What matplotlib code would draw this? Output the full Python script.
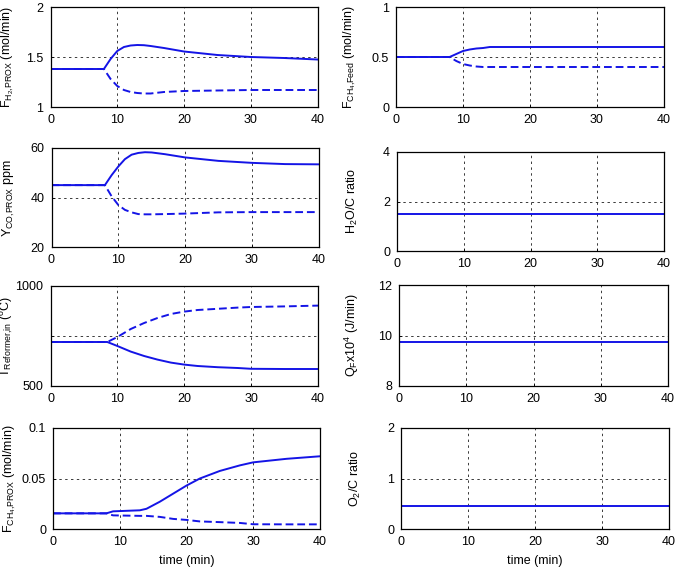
import matplotlib
matplotlib.use('Agg')
import matplotlib.pyplot as plt

plt.rcParams['font.family'] = ['Liberation Sans', 'DejaVu Sans']
plt.rcParams['mathtext.fontset'] = 'custom'
plt.rcParams['mathtext.rm'] = 'Liberation Sans'
plt.rcParams['mathtext.it'] = 'Liberation Sans'
plt.rcParams['font.size'] = 9

# time grids
t_a = [0, 8, 9, 10, 11, 12, 13, 14, 15, 17, 20, 25, 30, 35, 40]
t_T = [0, 8.5, 10, 12, 14, 16, 18, 20, 22, 25, 28, 30, 35, 40]
t_c = [0, 8, 9, 13, 14, 16, 18, 20, 22, 25, 28, 30, 35, 40]
t_flat = [0, 40]

# F_H2,PROX (mol/min)
fh2_up = [1.38, 1.38, 1.48, 1.56, 1.60, 1.615, 1.62, 1.618, 1.61, 1.59, 1.555, 1.52, 1.50, 1.49, 1.475]
fh2_dn = [1.38, 1.38, 1.28, 1.21, 1.17, 1.15, 1.14, 1.135, 1.135, 1.15, 1.16, 1.165, 1.17, 1.17, 1.17]

# F_CH4,Feed (mol/min)
fch4_up = [0.5, 0.5, 0.53, 0.56, 0.575, 0.585, 0.59, 0.6, 0.6, 0.6, 0.6, 0.6, 0.6, 0.6, 0.6]
fch4_dn = [0.5, 0.5, 0.46, 0.43, 0.415, 0.405, 0.4, 0.4, 0.4, 0.4, 0.4, 0.4, 0.4, 0.4, 0.4]

# Y_CO,PROX ppm
yco_up = [45, 45, 49, 52.5, 55.5, 57.3, 58, 58.3, 58.2, 57.5, 56.2, 54.8, 54, 53.5, 53.4]
yco_dn = [45, 45, 40.5, 37, 35, 34, 33.3, 33.2, 33.2, 33.3, 33.5, 34, 34.1, 34.1, 34.1]

# T_Reformer,in (C)
tref_dn = [720, 720, 700, 672, 650, 632, 617, 607, 600, 594, 590, 586, 585, 585]
tref_up = [720, 720, 745, 785, 815, 840, 860, 872, 880, 886, 892, 895, 898, 902]

# F_CH4,PROX (mol/min)
fprox_up = [0.0155, 0.0155, 0.0175, 0.0185, 0.020, 0.027, 0.035, 0.043, 0.050, 0.0575, 0.063, 0.066, 0.0695, 0.072]
fprox_dn = [0.0155, 0.0155, 0.0135, 0.013, 0.013, 0.012, 0.010, 0.009, 0.0075, 0.0068, 0.006, 0.0047, 0.0046, 0.0046]

# manipulated constants
h2oc = [1.5, 1.5]
qf = [9.75, 9.75]
o2c = [0.45, 0.45]

fig = plt.figure(figsize=(6.75, 5.73), dpi=100)

W, H = 675.0, 573.0
def make_ax(x0, x1, top, bot):
    return fig.add_axes([x0 / W, 1 - bot / H, (x1 - x0) / W, (bot - top) / H])

def style(ax, ylim, yticks, ylabels, ylabel, xlabel=None):
    ax.set_xlim(0, 40)
    ax.set_xticks([0, 10, 20, 30, 40])
    ax.set_ylim(*ylim)
    ax.set_yticks(yticks)
    ax.set_yticklabels(ylabels)
    ax.grid(True, color='#3a3a3a', linestyle=(0, (2.5, 3.5)), linewidth=0.7)
    ax.tick_params(direction='in', length=2.5, width=0.6, labelsize=9, pad=5)
    for s in ax.spines.values():
        s.set_linewidth(0.9)
    ax.set_ylabel(ylabel, fontsize=9)
    if xlabel:
        ax.set_xlabel(xlabel, fontsize=9, labelpad=5)

blue = '#1414e6'
dash = (0, (4, 2))

ax1 = make_ax(50.5, 317.5, 7, 107)
ax1.plot(t_a, fh2_up, color=blue, lw=1.4)
ax1.plot(t_a, fh2_dn, color=blue, lw=1.4, linestyle=dash)
style(ax1, (1, 2), [1, 1.5, 2], ['1', '1.5', '2'], r'F$_{\mathregular{H_2{,}PROX}}$ (mol/min)')

ax2 = make_ax(396, 664, 7, 107)
ax2.plot(t_a, fch4_up, color=blue, lw=1.4)
ax2.plot(t_a, fch4_dn, color=blue, lw=1.4, linestyle=dash)
style(ax2, (0, 1), [0, 0.5, 1], ['0', '0.5', '1'], r'F$_{\mathregular{CH_4{,}Feed}}$ (mol/min)')

ax3 = make_ax(51.5, 318.5, 148, 247)
ax3.plot(t_a, yco_up, color=blue, lw=1.4)
ax3.plot(t_a, yco_dn, color=blue, lw=1.4, linestyle=dash)
style(ax3, (20, 60), [20, 40, 60], ['20', '40', '60'], r'Y$_{\mathregular{CO{,}PROX}}$ ppm')

ax4 = make_ax(397, 664, 152, 251)
ax4.plot(t_flat, h2oc, color=blue, lw=1.4)
style(ax4, (0, 4), [0, 2, 4], ['0', '2', '4'], r'H$_2$O/C ratio')

ax5 = make_ax(50.5, 318, 286, 386)
ax5.plot(t_T, tref_dn, color=blue, lw=1.4)
ax5.plot(t_T, tref_up, color=blue, lw=1.4, linestyle=dash)
style(ax5, (500, 1000), [500, 750, 1000], ['500', '', '1000'],
      r'T$_{\mathregular{Reformer{,}in}}$ ($^{\mathregular{o}}$C)')

ax6 = make_ax(399, 668, 285, 386)
ax6.plot(t_flat, qf, color=blue, lw=1.4)
style(ax6, (8, 12), [8, 10, 12], ['8', '10', '12'], r'Q$_F$x10$^4$ (J/min)')

ax7 = make_ax(53, 320, 428, 529)
ax7.plot(t_c, fprox_up, color=blue, lw=1.4)
ax7.plot(t_c, fprox_dn, color=blue, lw=1.4, linestyle=dash)
style(ax7, (0, 0.1), [0, 0.05, 0.1], ['0', '0.05', '0.1'],
      r'F$_{\mathregular{CH_4{,}PROX}}$ (mol/min)', 'time (min)')

ax8 = make_ax(401, 669, 428, 529)
ax8.plot(t_flat, o2c, color=blue, lw=1.4)
style(ax8, (0, 2), [0, 1, 2], ['0', '1', '2'], r'O$_2$/C ratio', 'time (min)')

for ax in [ax1, ax3, ax5, ax7]:
    ax.yaxis.set_label_coords(-0.13, 0.5)
for ax in [ax2, ax4, ax6, ax8]:
    ax.yaxis.set_label_coords(-0.14, 0.5)

fig.savefig('out.png', dpi=100)
